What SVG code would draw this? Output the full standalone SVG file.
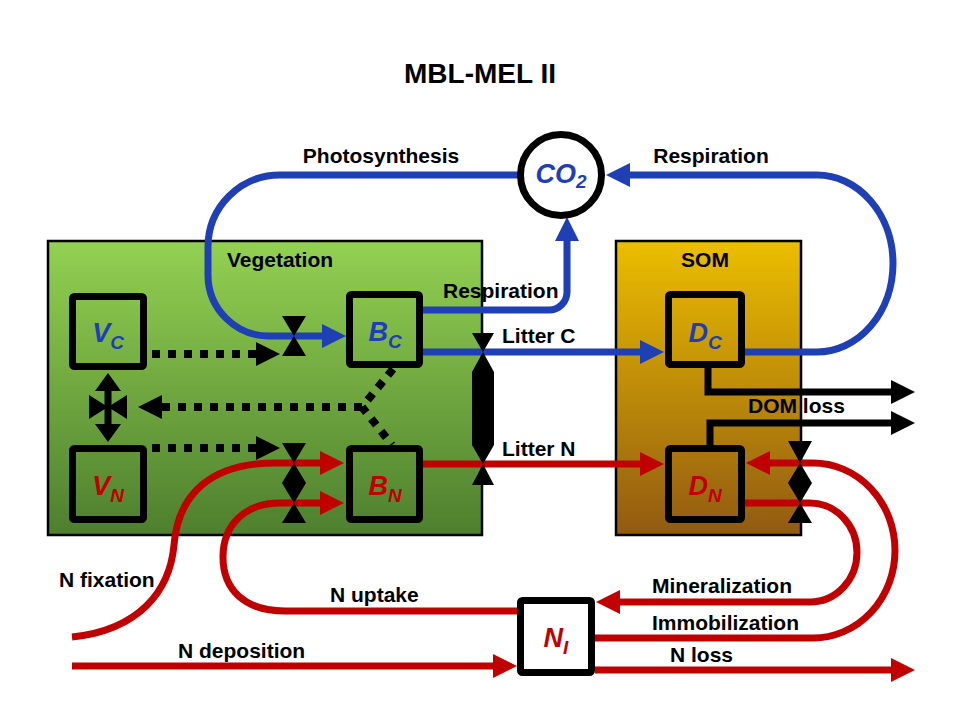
<svg xmlns="http://www.w3.org/2000/svg" width="960" height="720" viewBox="0 0 960 720">
<defs>
<linearGradient id="gVeg" x1="0" y1="0" x2="0" y2="1">
<stop offset="0" stop-color="#93D152"/>
<stop offset="1" stop-color="#4E7F2E"/>
</linearGradient>
<linearGradient id="gSom" x1="0" y1="0" x2="0" y2="1">
<stop offset="0" stop-color="#EBBE00"/>
<stop offset="1" stop-color="#915A12"/>
</linearGradient>
<marker id="aB" markerUnits="userSpaceOnUse" markerWidth="24" markerHeight="24" viewBox="0 0 24 24" refX="2" refY="12" orient="auto"><path d="M0,0 L24,12 L0,24 z" fill="#1F3FB4"/></marker>
<marker id="aR" markerUnits="userSpaceOnUse" markerWidth="24" markerHeight="24" viewBox="0 0 24 24" refX="2" refY="12" orient="auto"><path d="M0,0 L24,12 L0,24 z" fill="#C00000"/></marker>
<marker id="aK" markerUnits="userSpaceOnUse" markerWidth="24" markerHeight="24" viewBox="0 0 24 24" refX="2" refY="12" orient="auto"><path d="M0,0 L24,12 L0,24 z" fill="#000"/></marker>
<marker id="aK2" markerUnits="userSpaceOnUse" markerWidth="18" markerHeight="26" viewBox="0 0 18 26" refX="2" refY="13" orient="auto-start-reverse"><path d="M0,0 L18,13 L0,26 z" fill="#000"/></marker>
</defs>
<style>
.t{font-family:"Liberation Sans",Arial,sans-serif;font-weight:bold;font-size:21px;fill:#000}
.title{font-size:28px}
.n{font-family:"Liberation Sans",Arial,sans-serif;font-weight:bold;font-style:italic;font-size:27px;text-anchor:middle}
.s{font-size:19px}
.box{fill:none;stroke:#000;stroke-width:7}
.blue{fill:none;stroke:#1F3FB4;stroke-width:7}
.red{fill:none;stroke:#C00000;stroke-width:7}
.blk{fill:none;stroke:#000;stroke-width:7}
.dot{fill:none;stroke:#000;stroke-width:8;stroke-dasharray:8 8}
.valve{fill:#000}
.cb{fill:#1F3FB4}
.cr{fill:#C00000}
</style>
<rect width="960" height="720" fill="#fff"/>
<text class="t title" x="480" y="83" text-anchor="middle">MBL-MEL II</text>

<g id="vegetation">
<rect x="48" y="241" width="434" height="294" fill="url(#gVeg)" stroke="#000" stroke-width="2.5"/>
<text class="t" x="280" y="267" text-anchor="middle">Vegetation</text>
</g>
<g id="som">
<rect x="616" y="241" width="185" height="294" fill="url(#gSom)" stroke="#000" stroke-width="2.5"/>
<text class="t" x="705" y="267" text-anchor="middle">SOM</text>
</g>

<g id="connectors">
<!-- carbon -->
<path class="blue" d="M518,175 H280 A72,72 0 0 0 208,247 V275 A61,61 0 0 0 269,336 H324" marker-end="url(#aB)"/>
<path class="blue" d="M423,310 H549 A18,18 0 0 0 567,292 V239" marker-end="url(#aB)"/>
<path class="blue" d="M423,352 H642" marker-end="url(#aB)"/>
<path class="blue" d="M745,352 H817 A76,88.5 0 0 0 817,175 H628" marker-end="url(#aB)"/>
<!-- nitrogen -->
<path class="red" d="M423,464 H642" marker-end="url(#aR)"/>
<path class="red" d="M72,637 C140,630 170,590 174,545 C178,495 210,463 275,463 H322" marker-end="url(#aR)"/>
<path class="red" d="M517,611 H285 C245,611 223,590 223,557 C223,525 245,503 280,503 H322" marker-end="url(#aR)"/>
<path class="red" d="M72,666 H495" marker-end="url(#aR)"/>
<path class="red" d="M595,670 H893" marker-end="url(#aR)"/>
<path class="red" d="M745,503 H810 A47,49.5 0 0 1 810,602 H618" marker-end="url(#aR)"/>
<path class="red" d="M595,638 H813 A82,87.5 0 0 0 813,463 H768" marker-end="url(#aR)"/>
<!-- DOM loss -->
<path class="blk" d="M708,368 V392 H893" marker-end="url(#aK)"/>
<path class="blk" d="M710,445 V423 H893" marker-end="url(#aK)"/>
<!-- V_C / V_N exchange -->
<path class="blk" d="M108,389 V426" marker-start="url(#aK2)" marker-end="url(#aK2)"/>
<!-- allocation (dotted) -->
<path class="dot" d="M152,354 H258" marker-end="url(#aK)"/>
<path class="dot" d="M152,448 H258" marker-end="url(#aK)"/>
<path class="dot" d="M393,369 L362,407 L392,445"/>
<path class="dot" d="M362,407 H160" marker-end="url(#aK)"/>
<!-- valves -->
<path class="valve" d="M282,316 H306 L294,336 Z M282,356 H306 L294,336 Z"/>
<path class="valve" d="M282,443 H306 L294,463 Z M294,463 L306,483 L294,503 L282,483 Z M282,523 H306 L294,503 Z"/>
<path class="valve" d="M472,333 H494 L483,352 Z M483,352 L494,372 V445 L483,464 L472,445 V372 Z M472,485 H494 L483,464 Z"/>
<path class="valve" d="M788,441 H812 L800,463 Z M800,463 L812,483 L800,503 L788,483 Z M788,523 H812 L800,503 Z"/>
<path class="valve" d="M89,395 V419 L108,407 Z M127,395 V419 L108,407 Z"/>
<!-- labels -->
<text class="t" x="381" y="163" text-anchor="middle">Photosynthesis</text>
<text class="t" x="711" y="163" text-anchor="middle">Respiration</text>
<text class="t" x="443" y="298">Respiration</text>
<text class="t" x="502" y="343">Litter C</text>
<text class="t" x="502" y="456">Litter N</text>
<text class="t" x="748" y="413">DOM loss</text>
<text class="t" x="59" y="587">N fixation</text>
<text class="t" x="330" y="602">N uptake</text>
<text class="t" x="178" y="658">N deposition</text>
<text class="t" x="652" y="593">Mineralization</text>
<text class="t" x="652" y="630">Immobilization</text>
<text class="t" x="670" y="662">N loss</text>
</g>

<g id="node-CO2">
<circle cx="561" cy="175" r="40.5" fill="#fff" stroke="#000" stroke-width="7"/>
<text class="n cb" x="561" y="183" font-size="24">CO<tspan class="s" font-size="16" dy="5">2</tspan></text>
</g>
<g id="node-VC">
<rect class="box" x="72.5" y="296.5" width="71" height="70" rx="2"/>
<text class="n cb" x="108" y="342">V<tspan class="s" dy="7">C</tspan></text>
</g>
<g id="node-VN">
<rect class="box" x="72.5" y="448.5" width="71" height="71" rx="2"/>
<text class="n cr" x="108" y="495">V<tspan class="s" dy="7">N</tspan></text>
</g>
<g id="node-BC">
<rect class="box" x="349.5" y="294.5" width="70" height="70" rx="2"/>
<text class="n cb" x="385" y="341">B<tspan class="s" dy="7">C</tspan></text>
</g>
<g id="node-BN">
<rect class="box" x="349.5" y="448.5" width="70" height="71" rx="2"/>
<text class="n cr" x="385" y="495">B<tspan class="s" dy="7">N</tspan></text>
</g>
<g id="node-DC">
<rect class="box" x="668.5" y="294.5" width="73" height="70" rx="2"/>
<text class="n cb" x="705" y="342">D<tspan class="s" dy="7">C</tspan></text>
</g>
<g id="node-DN">
<rect class="box" x="668.5" y="448.5" width="73" height="71" rx="2"/>
<text class="n cr" x="705" y="495">D<tspan class="s" dy="7">N</tspan></text>
</g>
<g id="node-NI">
<rect x="520.5" y="600.5" width="71" height="72" rx="2" fill="#fff" stroke="#000" stroke-width="7"/>
<text class="n cr" x="556" y="647">N<tspan class="s" dy="7">I</tspan></text>
</g>
</svg>
